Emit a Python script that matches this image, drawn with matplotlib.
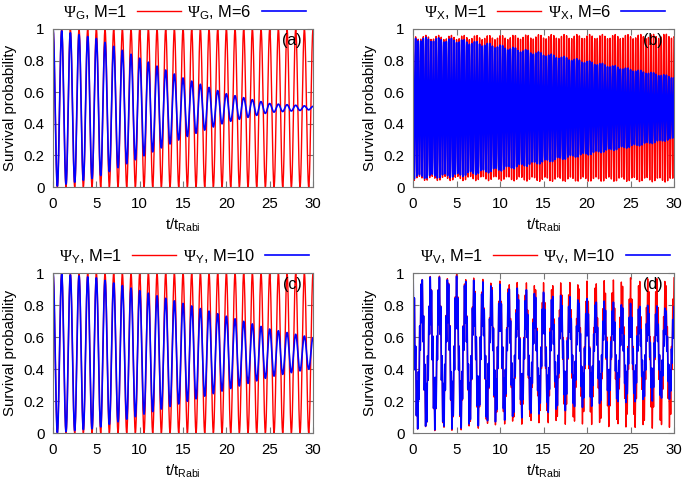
import numpy as np
import matplotlib
matplotlib.use("Agg")
import matplotlib.pyplot as plt

plt.rcParams['font.family'] = ['Liberation Sans', 'DejaVu Sans']
plt.rcParams['font.size'] = 10.8
plt.rcParams['mathtext.fontset'] = 'custom'
plt.rcParams['mathtext.rm'] = 'Liberation Serif'
plt.rcParams['mathtext.sf'] = 'Liberation Sans'
plt.rcParams['mathtext.it'] = 'Liberation Sans:italic'

# envelope readings (amplitude around 0.5) at these times
env_t = [0, 5, 10, 15, 20, 25, 30]
amp_a_m6 = [0.50, 0.44, 0.315, 0.19, 0.09, 0.028, 0.01]
amp_c_m10 = [0.50, 0.47, 0.39, 0.31, 0.23, 0.15, 0.095]
amp_b_m1 = [0.46, 0.46, 0.46, 0.465, 0.465, 0.465, 0.47]
amp_b_m6 = [0.45, 0.44, 0.40, 0.35, 0.30, 0.25, 0.20]
amp_d_m1 = [0.48, 0.49, 0.45, 0.44, 0.45, 0.47, 0.47]
amp_d_m10 = [0.48, 0.48, 0.43, 0.38, 0.34, 0.31, 0.29]

rabi_freq = 1.0     # oscillations per t_Rabi
fast_freq = 3.4     # panel (b) fast oscillation
ripple_d = 6.6      # panel (d) ripple frequency

panel_names = ['(a)', '(b)', '(c)', '(d)']
states = ['G', 'X', 'Y', 'V']
m_values = [6, 6, 10, 10]

t = np.linspace(0, 30, 12000)
tb = np.linspace(0, 30, 30000)


def env(amp, tt):
    return np.interp(tt, env_t, amp)


carrier = np.cos(2 * np.pi * rabi_freq * t)
series = {}
series['(a)'] = (t, 0.5 + 0.5 * carrier, 0.5 + env(amp_a_m6, t) * carrier)
series['(c)'] = (t, 0.5 + 0.5 * carrier, 0.5 + env(amp_c_m10, t) * carrier)
fb = 0.97 * np.cos(2 * np.pi * fast_freq * tb) + 0.03 * np.cos(2 * np.pi * 2.71 * tb)
series['(b)'] = (tb, 0.5 + env(amp_b_m1, tb) * fb, 0.5 + env(amp_b_m6, tb) * fb)
fd = 0.7 * np.cos(2 * np.pi * rabi_freq * tb) + 0.3 * np.cos(2 * np.pi * ripple_d * tb)
series['(d)'] = (tb, 0.5 + env(amp_d_m1, tb) * fd, 0.5 + env(amp_d_m10, tb) * fd)

positions = {
    '(a)': [0.0774, 0.6096, 0.3796, 0.3299],
    '(b)': [0.603, 0.6096, 0.381, 0.3299],
    '(c)': [0.0774, 0.096, 0.3796, 0.334],
    '(d)': [0.603, 0.096, 0.381, 0.334],
}

fig = plt.figure(figsize=(6.85, 4.79), dpi=100)
for name, st, m in zip(panel_names, states, m_values):
    ax = fig.add_axes(positions[name])
    tt, y1, y2 = series[name]
    ax.plot(tt, y1, color='#ff0000', lw=1.0, label=r'$\Psi_\mathsf{%s}$, M=1' % st)
    ax.plot(tt, y2, color='#0000ff', lw=1.2, label=r'$\Psi_\mathsf{%s}$, M=%d' % (st, m))
    ax.set_xlim(0, 30)
    ax.set_ylim(0, 1)
    ax.set_xticks([0, 5, 10, 15, 20, 25, 30])
    ax.set_yticks([0, 0.2, 0.4, 0.6, 0.8, 1])
    ax.set_yticklabels(['0', '0.2', '0.4', '0.6', '0.8', '1'])
    ax.tick_params(direction='in', top=True, right=True, length=4, color='#777777')
    ax.tick_params(axis='x', pad=7)
    ax.tick_params(axis='y', pad=6)
    for sp in ax.spines.values():
        sp.set_color('#777777')
    ax.set_xlabel(r't/t$_\mathsf{Rabi}$', labelpad=4)
    ax.set_ylabel('Survival probability', labelpad=5)
    ax.text(0.955, 0.975, name, transform=ax.transAxes, ha='right', va='top', fontsize=11.5)
    ax.legend(loc='lower center', bbox_to_anchor=(0.505, 1.0), ncol=2, frameon=False,
              markerfirst=False, handlelength=2.7, handletextpad=0.6,
              columnspacing=0.4, borderpad=0.2, borderaxespad=0.25,
              fontsize=11.8)

fig.savefig('out.png', dpi=100)
